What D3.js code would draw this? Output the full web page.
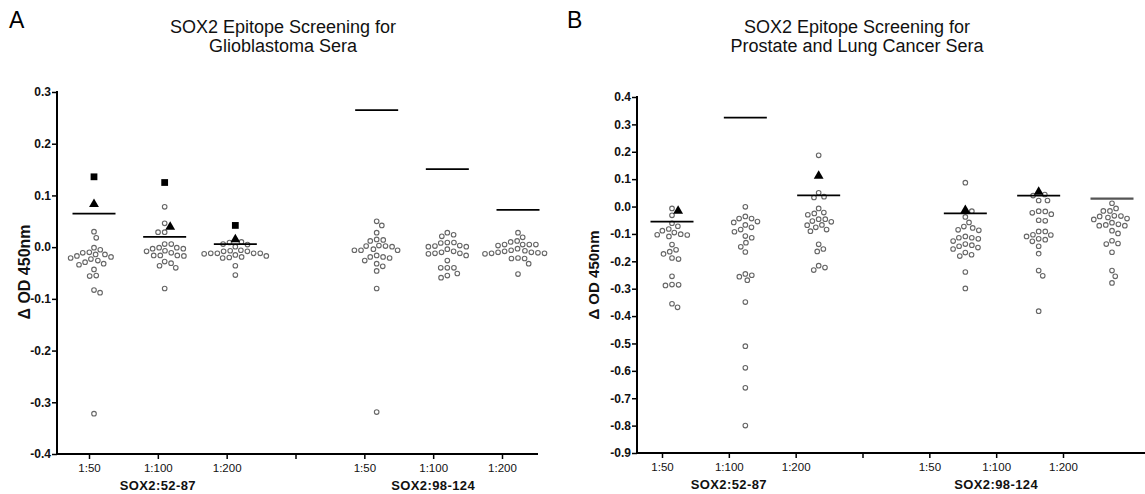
<!DOCTYPE html>
<html>
<head>
<meta charset="utf-8">
<script src="https://cdn.jsdelivr.net/npm/d3@7"></script>
<style>
  body { margin: 0; background: #fff; }
  svg { display: block; font-family: "Liberation Sans", Arial, sans-serif; }
</style>
</head>
<body>
<svg id="chart" width="1145" height="494"></svg>
<script>
// tick labels along x (slot 3 is the empty gap between peptides)
const xTickLabels = ['1:50', '1:100', '1:200', '', '1:50', '1:100', '1:200'];
const groupSlots = [0, 1, 2, 4, 5, 6];
const peptides = ['SOX2:52-87', 'SOX2:98-124'];
const peptideSlots = [1, 5];

// panel A - glioblastoma sera
const gbmCircles = [
  [0.030, 0.018, -0.001, -0.010, -0.005, -0.019, -0.014, -0.014, -0.011, -0.017, -0.023, -0.021, -0.029, -0.026, -0.034, -0.032, -0.043, -0.056, -0.055, -0.083, -0.088, -0.322],
  [0.078, 0.046, 0.029, 0.029, 0.006, 0.006, -0.001, -0.003, -0.003, -0.001, -0.007, -0.011, -0.008, -0.016, -0.017, -0.016, -0.016, -0.028, -0.031, -0.036, -0.040, -0.080],
  [0.010, 0.006, 0.005, 0.009, 0.001, -0.013, -0.017, -0.020, -0.006, -0.008, -0.012, -0.008, -0.012, -0.021, -0.019, -0.015, -0.012, -0.007, -0.012, -0.036, -0.054],
  [0.050, 0.042, 0.028, 0.015, 0.012, 0.014, 0.003, 0.002, -0.004, -0.006, 0.001, 0.002, -0.006, -0.006, -0.016, -0.019, -0.021, -0.019, -0.026, -0.032, -0.037, -0.046, -0.080, -0.319],
  [0.024, 0.021, 0.028, 0.009, 0.008, 0.009, 0.002, 0.001, 0.001, 0.003, -0.004, -0.008, -0.010, -0.013, -0.016, -0.012, -0.012, -0.026, -0.040, -0.040, -0.040, -0.051, -0.059, -0.055],
  [0.028, 0.019, 0.010, 0.012, 0.005, 0.005, 0.003, 0.005, 0.005, -0.006, -0.008, -0.011, -0.012, -0.013, -0.012, -0.010, -0.010, -0.007, -0.003, -0.021, -0.022, -0.022, -0.032, -0.052]
];
const gbmCutoff = [0.065, 0.020, 0.006, 0.265, 0.151, 0.072];
const gbmSquares = [0.136, 0.125, 0.042, null, null, null];
const gbmTriangles = [0.083, 0.039, 0.015, null, null, null];
const gbmTicks = [0.3, 0.2, 0.1, 0.0, -0.1, -0.2, -0.3, -0.4];

// panel B - prostate and lung cancer sera
const plCircles = [
  [-0.007, -0.032, -0.061, -0.072, -0.082, -0.095, -0.103, -0.109, -0.104, -0.101, -0.088, -0.139, -0.158, -0.165, -0.173, -0.188, -0.192, -0.255, -0.286, -0.288, -0.285, -0.355, -0.368],
  [-0.001, -0.036, -0.044, -0.044, -0.055, -0.058, -0.067, -0.076, -0.084, -0.092, -0.108, -0.114, -0.132, -0.147, -0.166, -0.246, -0.256, -0.269, -0.251, -0.349, -0.510, -0.589, -0.662, -0.800],
  [0.187, 0.050, 0.036, 0.033, -0.007, -0.022, -0.030, -0.025, -0.046, -0.056, -0.067, -0.053, -0.046, -0.076, -0.090, -0.084, -0.068, -0.138, -0.155, -0.164, -0.216, -0.232, -0.223],
  [0.087, -0.017, -0.038, -0.058, -0.073, -0.078, -0.085, -0.087, -0.109, -0.114, -0.126, -0.118, -0.114, -0.141, -0.150, -0.155, -0.145, -0.137, -0.168, -0.181, -0.176, -0.239, -0.299],
  [0.044, 0.040, 0.022, 0.022, -0.017, -0.028, -0.023, -0.018, -0.052, -0.050, -0.103, -0.109, -0.091, -0.091, -0.127, -0.121, -0.118, -0.104, -0.145, -0.172, -0.234, -0.253, -0.382],
  [0.012, -0.016, -0.016, -0.007, -0.035, -0.040, -0.047, -0.044, -0.036, -0.034, -0.065, -0.070, -0.070, -0.067, -0.059, -0.088, -0.098, -0.135, -0.137, -0.125, -0.167, -0.234, -0.255, -0.279]
];
const plCutoff = [-0.055, 0.325, 0.041, -0.025, 0.040, 0.029];
const plSquares = [null, null, null, null, null, null];
const plTriangles = [-0.016, null, 0.112, -0.013, 0.053, null];
const plTicks = [0.4, 0.3, 0.2, 0.1, 0.0, -0.1, -0.2, -0.3, -0.4, -0.5, -0.6, -0.7, -0.8, -0.9];

const svg = d3.select('#chart');

// simple beeswarm: place each point at the offset nearest the centre that doesn't overlap
function swarm(points, d) {
  let placed = [];
  let order = points.slice().sort((a, b) => a.py - b.py);
  order.forEach(p => {
    let cands = [0];
    placed.forEach(q => {
      let dy = Math.abs(q.py - p.py);
      if (dy < d) {
        let dx = Math.sqrt(d * d - dy * dy);
        cands.push(q.dx - dx, q.dx + dx);
      }
    });
    cands.sort((a, b) => Math.abs(a) - Math.abs(b) || b - a);
    for (let c of cands) {
      let ok = placed.every(q => (q.dx - c) ** 2 + (q.py - p.py) ** 2 >= d * d - 0.01);
      if (ok) { p.dx = c; break; }
    }
    placed.push(p);
  });
  return points;
}

function drawPanel(cfg) {
  let g = svg.append('g');

  let y = d3.scaleLinear().domain(cfg.yDomain).range([cfg.bottom, cfg.top]);
  let xTick = d3.scaleLinear().domain([0, 6]).range(cfg.tickRange);
  let xDot = d3.scaleLinear().domain([0, 6]).range(cfg.dotRange);

  // panel letter and title
  g.append('text').attr('x', cfg.letterX).attr('y', 28)
    .attr('font-size', 23).text(cfg.letter);
  cfg.title.forEach((line, i) => {
    g.append('text').attr('x', cfg.titleX).attr('y', 33 + i * 19)
      .attr('text-anchor', 'middle').attr('font-size', 18).attr('fill', '#111').text(line);
  });

  // y axis
  let yAxis = d3.axisLeft(y).tickValues(cfg.ticks).tickSize(5).tickSizeOuter(0)
    .tickFormat(d => d.toFixed(1));
  let ya = g.append('g').attr('transform', 'translate(' + cfg.left + ',0)').call(yAxis);
  ya.select('.domain').remove();
  ya.selectAll('line').attr('stroke', '#000').attr('stroke-width', 1.5);
  ya.selectAll('text').attr('font-size', 12).attr('font-weight', 'bold').attr('x', -6)
    .attr('font-family', '"Liberation Sans", Arial, sans-serif').attr('fill', '#111');
  g.append('line').attr('x1', cfg.left).attr('x2', cfg.left)
    .attr('y1', y(cfg.yDomain[1]) - 1).attr('y2', y(cfg.yDomain[0]))
    .attr('stroke', '#000').attr('stroke-width', 2);

  g.append('text')
    .attr('transform', 'translate(' + cfg.yLabelX + ',' + cfg.yLabelY + ') rotate(-90)')
    .attr('text-anchor', 'middle').attr('font-size', cfg.yLabelSize).attr('font-weight', 'bold')
    .attr('fill', '#111').text('\u0394 OD 450nm');

  // x axis
  let xAxis = d3.axisBottom(xTick).tickValues(d3.range(7)).tickSize(5).tickSizeOuter(0)
    .tickFormat(i => xTickLabels[i]);
  let xa = g.append('g').attr('transform', 'translate(0,' + cfg.bottom + ')').call(xAxis);
  xa.select('.domain').remove();
  xa.selectAll('line').attr('stroke', '#000').attr('stroke-width', 1.5);
  xa.selectAll('text').attr('font-size', 11.5).attr('dy', '0.85em')
    .attr('font-family', '"Liberation Sans", Arial, sans-serif').attr('fill', '#111');
  g.append('line').attr('x1', cfg.left - 1).attr('x2', cfg.right)
    .attr('y1', cfg.bottom).attr('y2', cfg.bottom)
    .attr('stroke', '#000').attr('stroke-width', 2);

  peptides.forEach((p, i) => {
    g.append('text').attr('x', xTick(peptideSlots[i])).attr('y', cfg.bottom + 36)
      .attr('text-anchor', 'middle').attr('font-size', 13).attr('font-weight', 'bold')
      .attr('letter-spacing', 0.4).attr('fill', '#111').text(p);
  });

  // dots per group
  groupSlots.forEach((slot, gi) => {
    let pts = cfg.circles[gi].map(v => ({ v: v, py: y(v), kind: 'circle' }));
    if (cfg.triangles[gi] != null) pts.push({ v: cfg.triangles[gi], py: y(cfg.triangles[gi]), kind: 'triangle' });
    if (cfg.squares[gi] != null) pts.push({ v: cfg.squares[gi], py: y(cfg.squares[gi]), kind: 'square' });
    swarm(pts, cfg.spacing);
    let cx = xDot(slot);

    g.selectAll(null).data(pts.filter(p => p.kind == 'circle')).enter()
      .append('circle')
      .attr('cx', p => cx + p.dx).attr('cy', p => p.py).attr('r', 2.3)
      .attr('fill', '#fff').attr('stroke', '#666').attr('stroke-width', 1.1);

    g.selectAll(null).data(pts.filter(p => p.kind != 'circle')).enter()
      .append('path')
      .attr('transform', p => 'translate(' + (cx + p.dx) + ',' + p.py + ')')
      .attr('d', p => d3.symbol(p.kind == 'square' ? d3.symbolSquare : d3.symbolTriangle, p.kind == 'square' ? 46 : 42)())
      .attr('fill', '#000');

    g.append('line')
      .attr('x1', cx - 21.5).attr('x2', cx + 21.5)
      .attr('y1', y(cfg.cutoff[gi])).attr('y2', y(cfg.cutoff[gi]))
      .attr('stroke', cfg.cutoffColors[gi]).attr('stroke-width', cfg.cutoffColors[gi] == '#000' ? 1.8 : 2.4);
  });
}

drawPanel({
  letter: 'A', letterX: 9, title: ['SOX2 Epitope Screening for', 'Glioblastoma Sera'], titleX: 283,
  yDomain: [-0.4, 0.3], top: 92, bottom: 454, left: 57, right: 538,
  tickRange: [89, 502], dotRange: [94, 518], ticks: gbmTicks,
  yLabelX: 30, yLabelY: 272, yLabelSize: 16,
  circles: gbmCircles, cutoff: gbmCutoff, squares: gbmSquares, triangles: gbmTriangles,
  cutoffColors: ['#000', '#000', '#000', '#000', '#000', '#000'], spacing: 6.6
});

drawPanel({
  letter: 'B', letterX: 567, title: ['SOX2 Epitope Screening for', 'Prostate and Lung Cancer Sera'], titleX: 857,
  yDomain: [-0.9, 0.4], top: 97, bottom: 453, left: 637, right: 1145,
  tickRange: [662, 1063], dotRange: [672, 1112], ticks: plTicks,
  yLabelX: 599, yLabelY: 275, yLabelSize: 15,
  circles: plCircles, cutoff: plCutoff, squares: plSquares, triangles: plTriangles,
  cutoffColors: ['#000', '#000', '#000', '#000', '#000', '#555'], spacing: 6.6
});
</script>
</body>
</html>
